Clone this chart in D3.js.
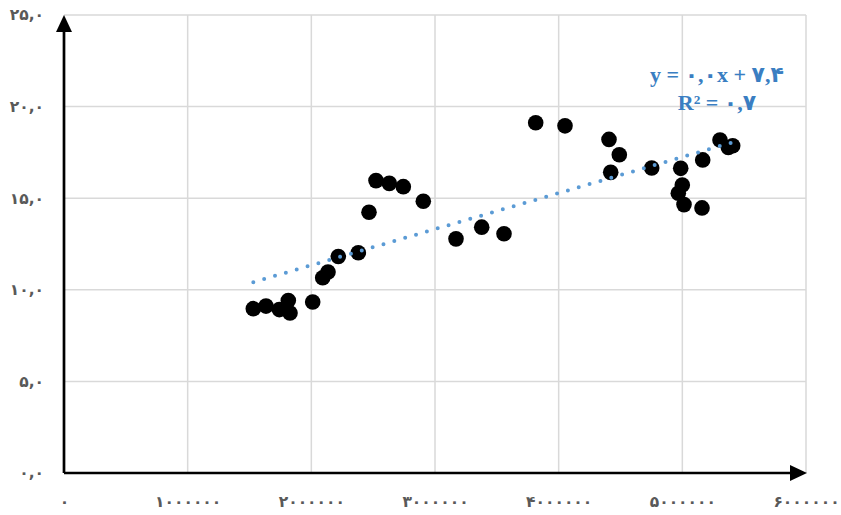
<!DOCTYPE html>
<html>
<head>
<meta charset="utf-8">
<script src="https://cdn.jsdelivr.net/npm/d3@7"></script>
<style>
  html, body { margin: 0; padding: 0; background: #fff; }
  svg { display: block; }
</style>
</head>
<body>
<svg id="chart" width="841" height="515"></svg>
<script>
// Observations: x value and y value for each point
const xValues = [153077, 163343, 174101, 181379, 182750, 201107, 209193, 213479, 221809, 237981,
                 246632, 252293, 263048, 274369, 290542, 316983, 337765, 355797, 381433, 405124,
                 440703, 449032, 442078, 475232, 498682, 499976, 496741, 501350, 515906, 516472,
                 530461, 537172, 540730];
const yValues = [8.97, 9.11, 8.92, 9.42, 8.73, 9.33, 10.66, 10.97, 11.82, 12.02,
                 14.23, 15.96, 15.81, 15.63, 14.83, 12.78, 13.42, 13.06, 19.12, 18.95,
                 18.21, 17.37, 16.41, 16.65, 16.63, 15.72, 15.27, 14.65, 14.47, 17.09,
                 18.18, 17.77, 17.86];

// Axis ticks and their Persian labels
const xTicks = [0, 100000, 200000, 300000, 400000, 500000, 600000];
const xTickLabels = ["۰", "۱۰۰۰۰۰۰", "۲۰۰۰۰۰۰", "۳۰۰۰۰۰۰", "۴۰۰۰۰۰۰", "۵۰۰۰۰۰۰", "۶۰۰۰۰۰۰"];
const yTicks = [0, 5, 10, 15, 20, 25];
const yTickLabels = ["۰,۰", "۵,۰", "۱۰,۰", "۱۵,۰", "۲۰,۰", "۲۵,۰"];

// Linear trend line and its equation
const trendSlope = 0.0000197;
const trendIntercept = 7.4;
const trendLabels = ["y = ۰,۰x + ۷,۴", "R² = ۰,۷"];

const svg = d3.select("#chart");
const plotLeft = 64, plotRight = 806, plotTop = 15, plotBottom = 473;

const x = d3.scaleLinear().domain([0, 600000]).range([plotLeft, plotRight]);
const y = d3.scaleLinear().domain([0, 25]).range([plotBottom, plotTop]);

// Grid
const grid = svg.append("g").attr("stroke", "#d9d9d9").attr("stroke-width", 1.5);
grid.selectAll("line.gy").data(yTicks.slice(1)).join("line")
  .attr("x1", plotLeft).attr("x2", plotRight)
  .attr("y1", d => y(d)).attr("y2", d => y(d));
grid.selectAll("line.gx").data(xTicks.slice(1)).join("line")
  .attr("x1", d => x(d)).attr("x2", d => x(d))
  .attr("y1", plotTop).attr("y2", plotBottom);

// Tick labels via d3 axes (lines hidden)
const yAxis = d3.axisLeft(y).tickValues(yTicks)
  .tickFormat((d, i) => yTickLabels[i]).tickSize(0).tickPadding(20);
const yg = svg.append("g").attr("transform", `translate(${plotLeft},0)`).call(yAxis);
yg.select(".domain").remove();
yg.selectAll("text")
  .attr("fill", "#595959")
  .attr("font-family", "DejaVu Sans, sans-serif")
  .attr("font-size", 15.5)
  .attr("font-weight", "bold");

const xAxis = d3.axisBottom(x).tickValues(xTicks)
  .tickFormat((d, i) => xTickLabels[i]).tickSize(0).tickPadding(23);
const xg = svg.append("g").attr("transform", `translate(0,${plotBottom})`).call(xAxis);
xg.select(".domain").remove();
xg.selectAll("text")
  .attr("fill", "#595959")
  .attr("font-family", "DejaVu Sans, sans-serif")
  .attr("font-size", 15.5)
  .attr("font-weight", "bold");

// Points
const pts = xValues.map((v, i) => ({x: v, y: yValues[i]}));
svg.append("g").selectAll("circle").data(pts).join("circle")
  .attr("cx", d => x(d.x)).attr("cy", d => y(d.y)).attr("r", 7.8)
  .attr("fill", "#000");

// Trend line across the range of observations
const xMin = d3.min(xValues), xMax = d3.max(xValues);
svg.append("line")
  .attr("x1", x(xMin)).attr("y1", y(trendSlope * xMin + trendIntercept))
  .attr("x2", x(xMax)).attr("y2", y(trendSlope * xMax + trendIntercept))
  .attr("stroke", "#5b9bd5").attr("stroke-width", 4)
  .attr("stroke-linecap", "round").attr("stroke-dasharray", "0 11.3");

// Axes with arrow heads
const axes = svg.append("g");
axes.append("line").attr("x1", x(0)).attr("x2", x(600000) - 14)
  .attr("y1", y(0)).attr("y2", y(0)).attr("stroke", "#000").attr("stroke-width", 2.7);
axes.append("line").attr("x1", x(0)).attr("x2", x(0))
  .attr("y1", y(0)).attr("y2", y(25) + 14).attr("stroke", "#000").attr("stroke-width", 2.7);
axes.append("path")
  .attr("d", `M${x(600000) + 1},${y(0)} L${x(600000) - 16},${y(0) - 8} L${x(600000) - 16},${y(0) + 8} Z`)
  .attr("fill", "#000");
axes.append("path")
  .attr("d", `M${x(0)},${y(25)} L${x(0) - 8},${y(25) + 17} L${x(0) + 8},${y(25) + 17} Z`)
  .attr("fill", "#000");

// Equation label
const eq = svg.append("text")
  .attr("text-anchor", "middle")
  .attr("fill", "#3a7ec2")
  .attr("font-family", "Liberation Serif, DejaVu Sans, serif")
  .attr("font-weight", "bold")
  .attr("font-size", 22);
eq.selectAll("tspan").data(trendLabels).join("tspan")
  .attr("x", 717).attr("y", (d, i) => 82 + i * 28)
  .text(d => d);
</script>
</body>
</html>
